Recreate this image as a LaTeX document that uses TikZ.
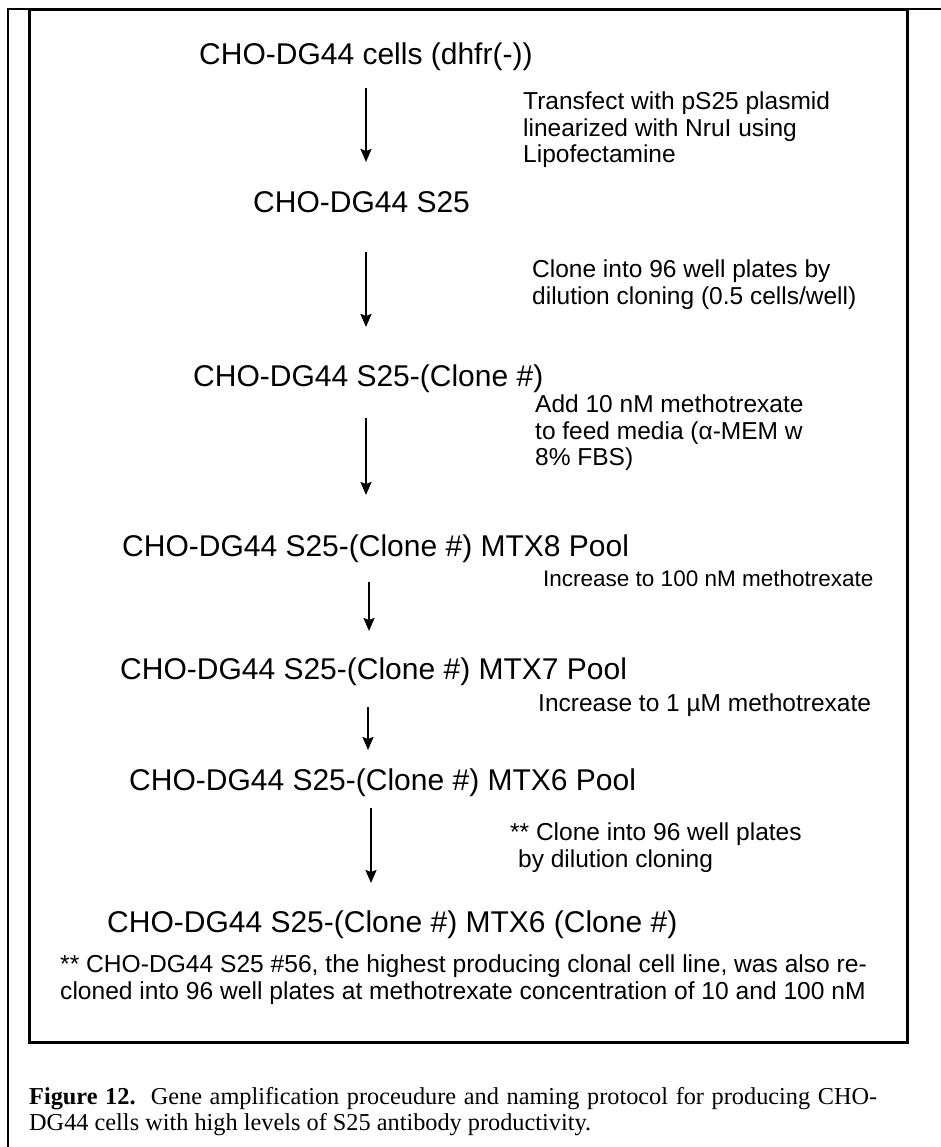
\documentclass[tikz,border=0pt]{standalone}
\usepackage{fontspec}
\setmainfont{Liberation Serif}
\setsansfont{Liberation Sans}
\usetikzlibrary{arrows.meta}
\tikzset{cellline/.style={anchor=base west,inner sep=0pt,font=\sffamily\fontsize{30}{36}\selectfont},stepnote/.style={anchor=north west,inner sep=0pt,align=left,font=\sffamily\fontsize{24.5}{26.5}\selectfont},flow/.style={-{Stealth[length=13pt,width=11pt,inset=2pt]},line width=2pt},frame/.style={line width=2pt}}

\begin{document}
\begin{tikzpicture}[x=1pt,y=-1pt]
      \useasboundingbox(0,0)rectangle(941,1147);
      \draw[frame](8,1147)--(8,9)--(941,9);
      \draw[line width=3pt](29,10)rectangle(907,1042);
      % cell lines
      \node[cellline](c1)at(199,65){CHO-DG44 cells (dhfr(-))};
      \node[cellline](c2)at(253,213){CHO-DG44 S25};
      \node[cellline](c3)at(193,386){CHO-DG44 S25-(Clone \#)};
      \node[cellline](c4)at(122,556){CHO-DG44 S25-(Clone \#) MTX8 Pool};
      \node[cellline](c5)at(120,679){CHO-DG44 S25-(Clone \#) MTX7 Pool};
      \node[cellline](c6)at(129,790){CHO-DG44 S25-(Clone \#) MTX6 Pool};
      \node[cellline](c7)at(107,932){CHO-DG44 S25-(Clone \#) MTX6 (Clone \#)};
      % steps
      \coordinate(a1s)at(366,88);\coordinate(a1e)at(366,162);
      \coordinate(a2s)at(366,252);\coordinate(a2e)at(366,327);
      \coordinate(a3s)at(366,418);\coordinate(a3e)at(366,495);
      \coordinate(a4s)at(369,582);\coordinate(a4e)at(369,631);
      \coordinate(a5s)at(368,707);\coordinate(a5e)at(368,750);
      \coordinate(a6s)at(371,808);\coordinate(a6e)at(371,883);
      \draw[flow](a1s)--(a1e);\draw[flow](a2s)--(a2e);\draw[flow](a3s)--(a3e);
      \draw[flow](a4s)--(a4e);\draw[flow](a5s)--(a5e);\draw[flow](a6s)--(a6e);
      \node[stepnote](n1)at(523,92){Transfect with pS25 plasmid\\linearized with NruI using\\Lipofectamine};
      \node[stepnote](n2)at(532,260){Clone into 96 well plates by\\dilution cloning (0.5 cells/well)};
      \node[stepnote](n3)at(535,395){Add 10 nM methotrexate\\to feed media (α-MEM w\\8\% FBS)};
      \node[stepnote,font=\sffamily\fontsize{22.5}{26}\selectfont](n4)at(543,570){Increase to 100 nM methotrexate};
      \node[stepnote](n5)at(538,694){Increase to 1 µM methotrexate};
      \node[stepnote](n6)at(510,823){** Clone into 96 well plates\\\hspace*{8pt}by dilution cloning};
      \node[stepnote,font=\sffamily\fontsize{24.6}{27}\selectfont](note)at(60,954){** CHO-DG44 S25 \#56, the highest producing clonal cell line, was also re-\\cloned into 96 well plates at methotrexate concentration of 10 and 100 nM};
      % caption
      \node[anchor=north west,inner sep=0pt,align=left,font=\fontsize{24.3}{26}\selectfont](cap)at(29,1087){\makebox[848pt][s]{\textbf{Figure 12.}\ \ Gene amplification proceudure and naming protocol for producing CHO-}\\DG44 cells with high levels of S25 antibody productivity.};
    \end{tikzpicture}
\end{document}
